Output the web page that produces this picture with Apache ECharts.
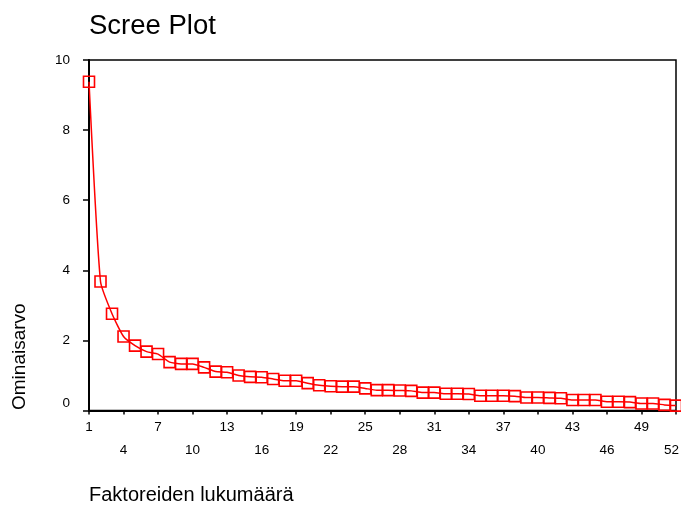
<!DOCTYPE html>
<html>
<head>
<meta charset="utf-8">
<script src="https://cdn.jsdelivr.net/npm/echarts@6/dist/echarts.min.js"></script>
<style>
html,body{margin:0;padding:0;background:#fff;}
#c{width:681px;height:507px;}
</style>
</head>
<body>
<div id="c"></div>
<script>
var categories = ['1','2','3','4','5','6','7','8','9','10','11','12','13','14','15','16','17','18','19','20','21','22','23','24','25','26','27','28','29','30','31','32','33','34','35','36','37','38','39','40','41','42','43','44','45','46','47','48','49','50','51','52'];
var eigenvalues = [9.38,3.68,2.76,2.11,1.85,1.68,1.61,1.38,1.33,1.33,1.23,1.11,1.09,1.00,0.96,0.95,0.90,0.85,0.85,0.78,0.72,0.69,0.68,0.68,0.63,0.58,0.58,0.57,0.56,0.51,0.51,0.48,0.48,0.47,0.42,0.42,0.42,0.41,0.37,0.37,0.36,0.35,0.30,0.30,0.30,0.25,0.25,0.24,0.20,0.20,0.16,0.14];
var titleText = 'Scree Plot';
var xTitle = 'Faktoreiden lukumäärä';
var yTitle = 'Ominaisarvo';

var FONT = '"Liberation Sans", Arial, sans-serif';
var chart = echarts.init(document.getElementById('c'), null, {renderer:'canvas'});
chart.setOption({
  animation: false,
  backgroundColor: '#fff',
  grid: {left: 89, right: 5, top: 60, bottom: 96.5, show: true, borderColor: '#000', borderWidth: 1.5, backgroundColor: 'transparent', containLabel: false, outerBoundsMode: 'none'},
  graphic: [
    {type:'text', left: 89, top: 12, style:{text: titleText, fontFamily: FONT, fontSize: 27.5, fill:'#000'}},
    {type:'text', left: 89, top: 485, style:{text: xTitle, fontFamily: FONT, fontSize: 20, fill:'#000'}},
    {type:'text', x: 19.5, y: 410, rotation: Math.PI/2, style:{text: yTitle, fontFamily: FONT, fontSize: 19, fill:'#000', align:'left', verticalAlign:'middle'}}
  ],
  xAxis: {
    type: 'category',
    data: categories,
    boundaryGap: false,
    axisLine: {lineStyle: {color:'#000', width: 2}},
    axisTick: {interval: 2, length: 4, lineStyle:{color:'#000', width:1.5}},
    axisLabel: {
      interval: 2, margin: 5, color:'#000', fontFamily: FONT, fontSize: 13.5, lineHeight: 23,
      formatter: function(v, i){
        var t = (i === categories.length - 1) ? '{r|' + v + '}' : v;
        return (Math.round(i/3) % 2 === 1) ? '\n' + t : t;
      },
      rich: {r: {fontFamily: FONT, fontSize: 13.5, color:'#000', lineHeight: 23, padding:[0,9,0,0]}}
    },
    splitLine: {show:false}
  },
  yAxis: {
    type: 'value', min: 0, max: 10, interval: 2,
    axisLine: {show: true, lineStyle: {color:'#000', width: 2}},
    axisTick: {show: true, length: 6, lineStyle:{color:'#000', width:1.5}},
    axisLabel: {
      margin: 19, color:'#000', fontFamily: FONT, fontSize: 13.5,
      formatter: function(v){ return v === 0 ? '{z|0}' : String(v); },
      rich: {z: {fontFamily: FONT, fontSize: 13.5, color:'#000', padding:[0,0,14,0]}}
    },
    splitLine: {show:false}
  },
  series: [{
    type: 'line',
    data: eigenvalues,
    smooth: 0.18,
    clip: false,
    symbol: 'rect',
    symbolSize: 11,
    showAllSymbol: true,
    lineStyle: {color:'#ff0000', width: 1.5},
    itemStyle: {color:'rgba(255,255,255,0)', borderColor:'#ff0000', borderWidth: 1.6}
  }]
});
</script>
</body>
</html>
